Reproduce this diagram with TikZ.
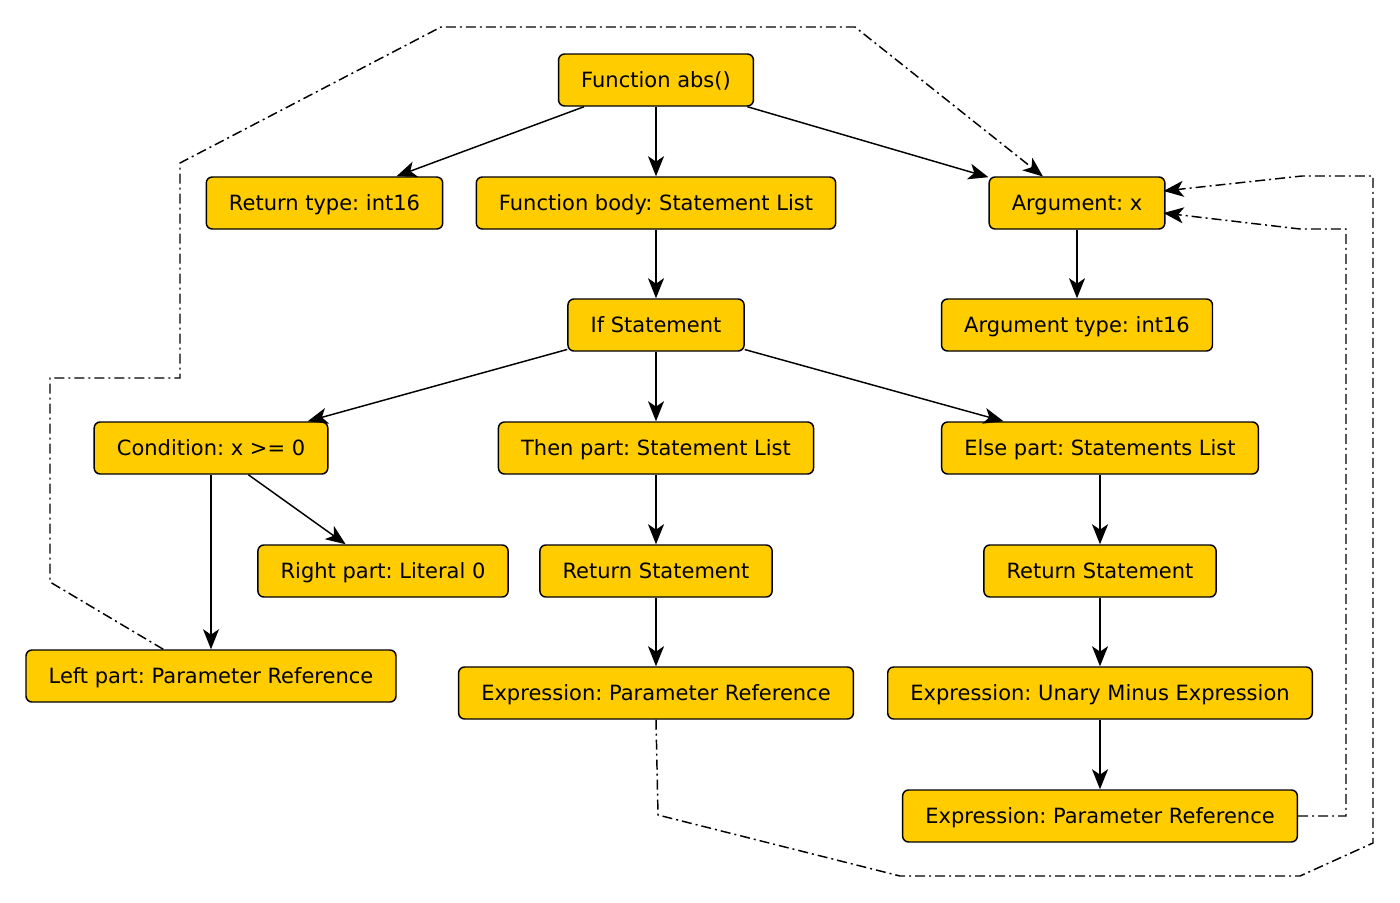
\documentclass[tikz,border=0pt]{standalone}
\usepackage{fontspec}
\setmainfont{DejaVu Sans}
\usetikzlibrary{arrows.meta}
\definecolor{boxfill}{HTML}{FFCC00}
\frenchspacing
\tikzset{
  tnode/.style={draw=black, fill=boxfill, rounded corners=4.5pt, line width=1.1pt,
    minimum height=39pt, inner xsep=17pt, inner ysep=0pt,
    text height=11.4pt, text depth=0pt,
    font=\fontsize{15.75}{18}\selectfont\frenchspacing, text=black},
  edge/.style={line width=1.1pt, -{Stealth[length=15pt, width=12pt, inset=4pt]}},
  refedge/.style={line width=1.1pt, dash pattern=on 7.5pt off 3pt on 1.5pt off 3pt,
    -{Stealth[length=15pt, width=12pt, inset=4pt]}}
}
\begin{document}
\begin{tikzpicture}[x=0.75pt, y=-0.75pt]
\useasboundingbox (0,0) rectangle (1400,903);
\node[tnode] (fn) at (656,80) {Function abs()};
\node[tnode] (rt) at (324.5,203) {Return type: int16};
\node[tnode] (body) at (656,203) {Function body: Statement List};
\node[tnode] (arg) at (1077,203) {Argument: x};
\node[tnode] (if) at (656,325) {If Statement};
\node[tnode] (argt) at (1077,325) {Argument type: int16};
\node[tnode] (cond) at (211,448) {Condition: x >= 0};
\node[tnode] (then) at (656,448) {Then part: Statement List};
\node[tnode] (else) at (1100,448) {Else part: Statements List};
\node[tnode] (right) at (383,571) {Right part: Literal 0};
\node[tnode] (ret1) at (656,571) {Return Statement};
\node[tnode] (ret2) at (1100,571) {Return Statement};
\node[tnode] (left) at (211,676) {Left part: Parameter Reference};
\node[tnode] (expr1) at (656,693) {Expression: Parameter Reference};
\node[tnode] (unary) at (1100,693) {Expression: Unary Minus Expression};
\node[tnode] (expr2) at (1100,816) {Expression: Parameter Reference};

\draw[edge] (fn) -- (rt);
\draw[edge] (fn) -- (body);
\draw[edge] (fn) -- (arg);
\draw[edge] (body) -- (if);
\draw[edge] (arg) -- (argt);
\draw[edge] (if) -- (cond);
\draw[edge] (if) -- (then);
\draw[edge] (if) -- (else);
\draw[edge] (cond) -- (left);
\draw[edge] (cond) -- (right);
\draw[edge] (then) -- (ret1);
\draw[edge] (ret1) -- (expr1);
\draw[edge] (else) -- (ret2);
\draw[edge] (ret2) -- (unary);
\draw[edge] (unary) -- (expr2);

\coordinate (a1) at (1043,176.5);
\coordinate (a2) at (1163.5,191);
\coordinate (a3) at (1163.5,213);
\draw[refedge] (left.north west) ++(138,0) -- (50,582) -- (50,378) -- (180,378) -- (180,163)
  -- (441,27) -- (855,27) -- (a1);
\draw[refedge] (expr1.south) -- (658,815) -- (900,876) -- (1300,876) -- (1373,843)
  -- (1373,176) -- (1302,176) -- (a2);
\draw[refedge] (expr2.east) -- (1346,816) -- (1346,229) -- (1300,229) -- (a3);
\end{tikzpicture}
\end{document}
